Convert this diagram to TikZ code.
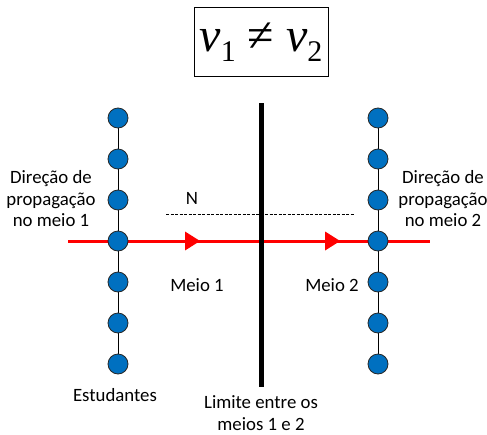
\documentclass[tikz,border=0pt]{standalone}
\usepackage{fontspec}
\setmainfont{Carlito}
\newfontfamily\titlefont{Liberation Serif}
\usetikzlibrary{positioning,arrows.meta,decorations.markings,backgrounds}
\definecolor{dotblue}{RGB}{0,112,192}
\definecolor{rayred}{RGB}{255,0,0}
\tikzset{
  dot/.style   = {circle, draw=black!85, fill=dotblue, minimum size=20pt, inner sep=0pt, line width=0.8pt},
  lbl/.style   = {align=center, inner sep=1pt, font=\fontsize{18.8}{21.5}\selectfont},
  ray/.style   = {draw=rayred, line width=3pt, postaction={decorate},
                  decoration={markings,
                    mark=at position 0.365 with {\arrow[rayred]{Triangle[length=15pt,width=18pt]}},
                    mark=at position 0.752 with {\arrow[rayred]{Triangle[length=15pt,width=18pt]}}}},
}
\newcommand{\vsub}[1]{{\itshape v}\raisebox{-0.22em}{\fontsize{30}{30}\selectfont #1}}

\begin{document}
\begin{tikzpicture}[x=1pt,y=-1pt]
  \useasboundingbox (0,0) rectangle (487,434);
  % title
  \node[draw, line width=0.6pt, minimum width=134pt, minimum height=69pt,
        font=\titlefont\fontsize{48}{54}\selectfont] (title) at (261,42) {\vsub{1} ≠ \vsub{2}};
  % ray and boundary
  \coordinate (rayin)  at (68,241);
  \coordinate (rayout) at (430,241);
  \draw[ray] (rayin) -- (rayout);
  \coordinate (walltop) at (261,103);
  \coordinate (wallbot) at (261,387);
  \draw[line width=5pt] (walltop) -- (wallbot);
  % students
  \foreach \i/\y in {1/118,2/159,3/200,4/241,5/282,6/323,7/364} {
    \node[dot] (l\i) at (118,\y) {};
    \node[dot] (r\i) at (378,\y) {};
  }
  \begin{scope}[on background layer]
    \foreach \i [evaluate=\i as \j using int(\i+1)] in {1,...,6} {
      \draw[line width=0.8pt] (l\i) -- (l\j);
      \draw[line width=0.8pt] (r\i) -- (r\j);
    }
  \end{scope}
  % normal
  \coordinate (nleft)  at (166,214);
  \coordinate (nright) at (354,214);
  \draw[line width=0.6pt, dash pattern=on 3pt off 1.5pt] (nleft) -- (nright);
  \node[lbl] (nlbl) at (192,198) {N};
  % labels
  \node[lbl] (dir1) at (51,199) {Direção de\\propagação\\no meio 1};
  \node[lbl] (dir2) at (443,199) {Direção de\\propagação\\no meio 2};
  \node[lbl] (meio1) at (197,285) {Meio 1};
  \node[lbl] (meio2) at (332,285) {Meio 2};
  \node[lbl] (stud) at (115,395) {Estudantes};
  \node[lbl] (limite) at (261,413) {Limite entre os\\meios 1 e 2};
\end{tikzpicture}
\end{document}
